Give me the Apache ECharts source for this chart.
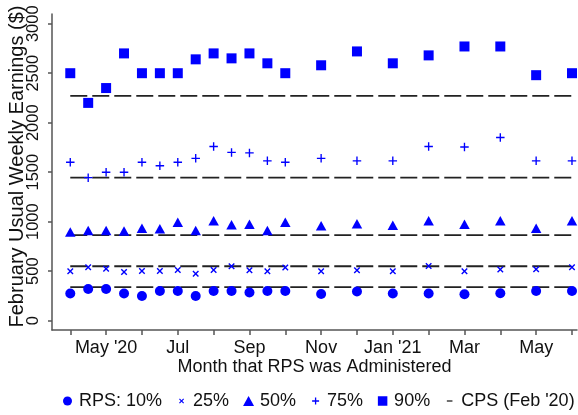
<!DOCTYPE html>
<html>
<head>
<meta charset="utf-8">
<script src="https://cdn.jsdelivr.net/npm/echarts@6/dist/echarts.min.js"></script>
<style>html,body{margin:0;padding:0;background:#fff;}#c{width:578px;height:415px;}</style>
</head>
<body>
<div id="c"></div>
<script>
// Survey months: months since April 2020 (semi-monthly Apr–Oct 2020, monthly afterwards)
const xMonth = [0, 0.5, 1, 1.5, 2, 2.5, 3, 3.5, 4, 4.5, 5, 5.5, 6, 7, 8, 9, 10, 11, 12, 13, 14];
const monthTickLabels = ['Apr', "May '20", 'Jun', 'Jul', 'Aug', 'Sep', 'Oct', 'Nov', 'Dec', "Jan '21", 'Feb', 'Mar', 'Apr', 'May', 'Jun'];
const monthTicks = [0, 1, 2, 3, 4, 5, 6, 7, 8, 9, 10, 11, 12, 13, 14];
const labelledMonths = [1, 3, 5, 7, 9, 11, 13];
const yTicks = [0, 500, 1000, 1500, 2000, 2500, 3000];

// RPS percentiles of February usual weekly earnings
const rps10 = [275, 320, 320, 275, 250, 300, 300, 250, 300, 300, 285, 300, 300, 270, 295, 275, 275, 268, 278, 300, 300];
const rps25 = [500, 540, 525, 492, 502, 502, 512, 475, 512, 550, 510, 500, 537, 500, 510, 500, 552, 500, 517, 520, 540];
const rps50 = [895, 910, 910, 905, 935, 930, 995, 910, 1010, 970, 975, 910, 995, 960, 980, 965, 1010, 975, 1010, 935, 1010];
const rps75 = [1600, 1445, 1500, 1500, 1600, 1565, 1600, 1640, 1760, 1700, 1695, 1615, 1600, 1640, 1615, 1615, 1760, 1755, 1850, 1615, 1615];
const rps90 = [2500, 2200, 2350, 2700, 2500, 2500, 2500, 2640, 2700, 2650, 2700, 2600, 2500, 2580, 2720, 2600, 2680, 2770, 2770, 2480, 2500];
// CPS (Feb '20) percentiles: 10, 25, 50, 75, 90
const cpsLevels = [340, 550, 865, 1445, 2270];

const seriesNames = ['RPS: 10%', '25%', '50%', '75%', '90%'];
const cpsName = "CPS (Feb '20)";

const BLUE = '#0000ff';
const FONT = 'Liberation Sans, Arial, sans-serif';
const crossPath = 'path://M0 1.5L1.5 0L5 3.5L8.5 0L10 1.5L6.5 5L10 8.5L8.5 10L5 6.5L1.5 10L0 8.5L3.5 5Z';
const plusPath = 'path://M4.2 0H5.8V4.2H10V5.8H5.8V10H4.2V5.8H0V4.2H4.2Z';

// legend icons in a 13x13 frame
const F = 'M0 0M13 13';
const legendIcons = [
  'path://' + F + 'M11 6.5A4.5 4.5 0 1 1 2 6.5A4.5 4.5 0 1 1 11 6.5Z',
  'path://' + F + 'M4 4.8L4.8 4L6.5 5.7L8.2 4L9 4.8L7.3 6.5L9 8.2L8.2 9L6.5 7.3L4.8 9L4 8.2L5.7 6.5Z',
  'path://' + F + 'M1 11.5L12 11.5L6.5 1.5Z',
  'path://' + F + 'M5.85 3H7.15V5.85H10V7.15H7.15V10H5.85V7.15H3V5.85H5.85Z',
  'path://' + F + 'M1.75 1.75H11.25V11.25H1.75Z',
  'path://' + F + 'M3.7 5.85H9.3V7.15H3.7Z'
];

const rpsData = [rps10, rps25, rps50, rps75, rps90];
const symbols = ['circle', crossPath, 'triangle', plusPath, 'rect'];
const symbolSizes = [10, 6.5, [10.5, 9.5], 8.5, 10];

const series = [];
rpsData.forEach((vals, i) => {
  series.push({
    name: seriesNames[i],
    type: 'scatter',
    data: xMonth.map((x, j) => [x, vals[j]]),
    symbol: symbols[i],
    symbolSize: symbolSizes[i],
    itemStyle: { color: BLUE, opacity: 1 },
    z: 5
  });
});
cpsLevels.forEach((lvl) => {
  series.push({
    name: cpsName,
    type: 'line',
    data: xMonth.map((x) => [x, lvl]),
    showSymbol: false,
    symbol: 'none',
    color: '#222',
    itemStyle: { color: '#222' },
    lineStyle: { color: '#222', width: 1.8, type: [17, 5] },
    z: 3
  });
});

const chart = echarts.init(document.getElementById('c'), null, { renderer: 'canvas' });
chart.setOption({
  animation: false,
  backgroundColor: '#fff',
  textStyle: { fontFamily: FONT },
  grid: { left: 52, right: 1, top: 14, bottom: 85, containLabel: false, outerBoundsMode: 'none' },
  xAxis: {
    type: 'value',
    min: -0.51,
    max: 14.14,
    name: 'Month that RPS was Administered',
    nameLocation: 'middle',
    nameGap: 28,
    nameMoveOverlap: false,
    nameTextStyle: { fontSize: 18, color: '#111', fontFamily: FONT },
    axisLine: { show: true, onZero: false, lineStyle: { color: '#555', width: 1.5 } },
    axisTick: { show: true, length: 5, lineStyle: { color: '#555', width: 1.5 }, customValues: monthTicks },
    axisLabel: {
      fontSize: 18, color: '#111', fontFamily: FONT, margin: 9.5,
      customValues: labelledMonths,
      formatter: (v) => monthTickLabels[Math.round(v)] || ''
    },
    splitLine: { show: false }
  },
  yAxis: {
    type: 'value',
    min: -94,
    max: 3098,
    name: 'February Usual Weekly Earnings ($)',
    nameLocation: 'middle',
    nameGap: 25,
    nameMoveOverlap: false,
    nameTextStyle: { fontSize: 20, color: '#111', fontFamily: FONT, padding: [0, 0, 0, 11] },
    axisLine: { show: true, onZero: false, lineStyle: { color: '#555', width: 1.5 } },
    axisTick: { show: true, length: 4, lineStyle: { color: '#555', width: 1.5 }, customValues: yTicks },
    axisLabel: {
      fontSize: 16.5, color: '#111', fontFamily: FONT, margin: 10.5, rotate: 90,
      customValues: yTicks,
      formatter: (v) => String(v)
    },
    splitLine: { show: false }
  },
  legend: {
    left: 61,
    top: 392,
    padding: 0,
    itemWidth: 13,
    itemHeight: 13,
    itemGap: 13,
    selectedMode: false,
    itemStyle: { borderWidth: 0 },
    textStyle: { fontSize: 18, color: '#111', fontFamily: FONT },
    data: seriesNames.concat([cpsName]).map((n, i) => ({ name: n, icon: legendIcons[i] }))
  },
  series: series
});
</script>
</body>
</html>
